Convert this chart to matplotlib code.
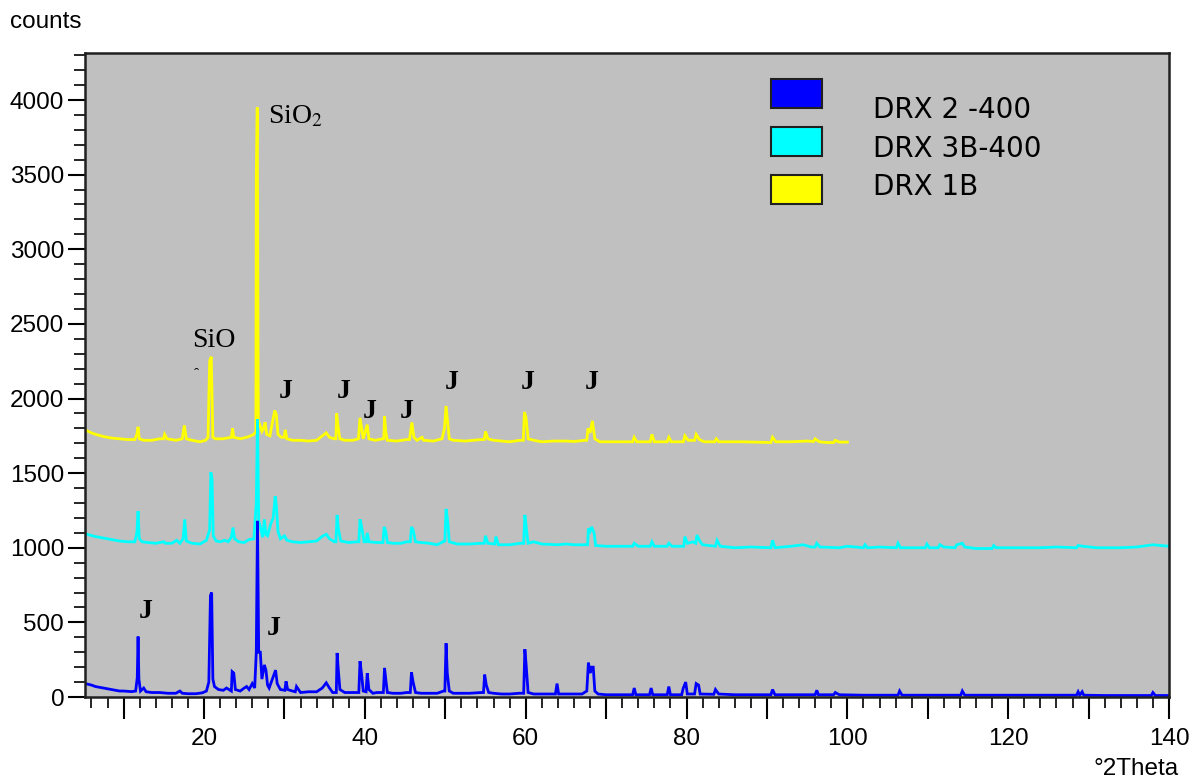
import matplotlib
matplotlib.use("Agg")
import matplotlib.pyplot as plt
import matplotlib.patches as patches
from matplotlib.ticker import MultipleLocator, FuncFormatter
import numpy as np

plt.rcParams['mathtext.fontset'] = 'stix'

# (2theta, counts) pairs for each diffractogram
drx2_400 = [
    (5.2, 90), (5.6, 85), (6.0, 80), (6.5, 70), (7.0, 65), (7.5, 60), (8.0, 55),
    (8.5, 50), (9.0, 45), (9.5, 40), (10.0, 40), (10.5, 38), (11.0, 36), (11.5, 40),
    (11.7, 130), (11.8, 405), (11.9, 120), (12.1, 40), (12.5, 60), (12.8, 35),
    (13.5, 30), (14.5, 30), (15.5, 25), (16.5, 25), (17.0, 40), (17.3, 25), (18.0, 22),
    (19.0, 22), (19.8, 28), (20.3, 40), (20.6, 100), (20.8, 680), (20.95, 700),
    (21.1, 120), (21.3, 70), (21.8, 50), (22.4, 45), (22.8, 60), (23.4, 40),
    (23.5, 170), (23.7, 160), (23.9, 50), (24.5, 40), (25.0, 60), (25.3, 70),
    (25.6, 50), (26.0, 90), (26.3, 60), (26.5, 300), (26.65, 1180), (26.8, 300),
    (27.0, 300), (27.2, 120), (27.5, 215), (27.7, 180), (27.9, 80), (28.1, 60),
    (28.5, 120), (28.9, 180), (29.1, 90), (29.5, 50), (30.05, 45), (30.2, 105),
    (30.4, 50), (31.0, 40), (31.35, 35), (31.5, 70), (32.0, 30), (33.0, 35),
    (34.0, 35), (34.7, 60), (35.2, 95), (35.6, 60), (36.0, 30), (36.45, 30),
    (36.55, 295), (36.7, 180), (36.9, 50), (37.5, 30), (38.5, 30), (39.25, 30),
    (39.4, 240), (39.6, 150), (39.8, 40), (40.15, 35), (40.3, 160), (40.5, 50),
    (41.0, 25), (41.5, 30), (42.0, 30), (42.3, 30), (42.45, 195), (42.6, 120),
    (42.8, 30), (43.5, 25), (44.5, 25), (45.2, 30), (45.65, 30), (45.8, 165),
    (46.0, 100), (46.3, 30), (47.0, 25), (48.0, 25), (49.0, 25), (49.8, 40),
    (49.95, 40), (50.1, 360), (50.25, 160), (50.5, 40), (51.0, 25), (52.0, 25),
    (53.0, 25), (54.5, 30), (54.75, 30), (54.9, 150), (55.1, 80), (55.4, 30),
    (56.0, 25), (57.0, 20), (58.0, 20), (59.2, 25), (59.75, 25), (59.9, 320),
    (60.05, 220), (60.3, 30), (61.0, 20), (62.0, 20), (63.7, 20), (63.9, 90),
    (64.1, 20), (65.0, 20), (66.0, 20), (67.0, 20), (67.6, 40), (67.8, 230),
    (68.0, 160), (68.2, 200), (68.4, 200), (68.6, 40), (69.0, 20), (70.0, 15),
    (72.0, 15), (73.3, 15), (73.5, 60), (73.7, 15), (75.4, 15), (75.6, 60),
    (75.8, 15), (77.6, 15), (77.8, 70), (78.0, 15), (79.4, 15), (79.6, 60),
    (79.9, 100), (80.1, 20), (81.0, 20), (81.2, 90), (81.5, 80), (81.7, 20),
    (83.4, 18), (83.6, 50), (84.0, 20), (86.0, 15), (88.0, 15), (90.5, 15),
    (90.7, 50), (91.0, 15), (94.0, 15), (96.0, 15), (96.2, 45), (96.4, 15),
    (98.3, 15), (98.5, 30), (99.0, 15), (102.0, 12), (104.0, 12), (106.3, 12),
    (106.5, 40), (106.8, 12), (110.0, 12), (112.0, 12), (114.1, 12), (114.3, 40),
    (114.6, 12), (118.0, 12), (122.0, 12), (126.0, 12), (128.5, 12), (128.7, 35),
    (128.9, 12), (129.2, 35), (129.4, 12), (132.0, 10), (136.0, 10), (137.8, 10),
    (138.0, 30), (138.3, 10), (140.0, 10),
]

drx3b_400 = [
    (5.2, 1095), (5.8, 1085), (6.5, 1075), (7.5, 1065), (8.5, 1055), (9.5, 1045),
    (10.5, 1040), (11.4, 1040), (11.65, 1100), (11.8, 1245), (11.95, 1060),
    (12.3, 1040), (13.0, 1035), (14.0, 1030), (15.0, 1040), (15.2, 1030),
    (16.0, 1030), (16.6, 1050), (17.0, 1030), (17.4, 1060), (17.6, 1190),
    (17.8, 1045), (18.5, 1030), (19.5, 1025), (20.3, 1050), (20.7, 1120),
    (20.85, 1505), (21.0, 1460), (21.15, 1080), (21.5, 1045), (22.0, 1040),
    (22.6, 1050), (23.0, 1040), (23.4, 1070), (23.6, 1135), (23.8, 1060),
    (24.3, 1040), (25.0, 1035), (25.6, 1055), (26.2, 1060), (26.5, 1300),
    (26.65, 1860), (26.8, 1180), (27.0, 1140), (27.3, 1070), (27.5, 1190),
    (27.7, 1090), (27.9, 1080), (28.3, 1160), (28.6, 1200), (28.85, 1345),
    (29.0, 1280), (29.2, 1110), (29.5, 1060), (30.0, 1080), (30.3, 1050),
    (31.0, 1040), (32.0, 1035), (33.0, 1040), (34.0, 1045), (34.8, 1080),
    (35.2, 1090), (35.6, 1060), (36.2, 1040), (36.4, 1040), (36.55, 1220),
    (36.7, 1130), (37.0, 1045), (38.0, 1035), (39.0, 1040), (39.25, 1040),
    (39.4, 1190), (39.6, 1140), (39.9, 1040), (40.15, 1040), (40.3, 1100),
    (40.5, 1040), (41.5, 1035), (42.25, 1035), (42.4, 1140), (42.6, 1110),
    (42.8, 1035), (43.5, 1030), (44.5, 1030), (45.2, 1040), (45.65, 1040),
    (45.8, 1140), (46.0, 1120), (46.3, 1040), (47.0, 1035), (48.0, 1030),
    (49.0, 1020), (49.7, 1040), (49.95, 1045), (50.1, 1260), (50.3, 1180),
    (50.5, 1040), (51.5, 1025), (53.0, 1025), (54.5, 1030), (54.85, 1030),
    (55.0, 1080), (55.3, 1030), (56.15, 1025), (56.3, 1075), (56.6, 1020),
    (58.0, 1020), (59.3, 1030), (59.75, 1030), (59.9, 1220), (60.1, 1120),
    (60.3, 1030), (61.0, 1040), (62.0, 1025), (64.0, 1020), (65.0, 1025),
    (66.0, 1020), (67.7, 1020), (67.8, 1130), (68.0, 1110), (68.2, 1140),
    (68.5, 1100), (68.7, 1015), (70.0, 1010), (72.0, 1010), (73.3, 1010),
    (73.5, 1030), (74.0, 1010), (75.5, 1010), (75.7, 1040), (76.0, 1010),
    (77.6, 1010), (77.8, 1030), (78.2, 1010), (79.2, 1010), (79.65, 1010),
    (79.8, 1075), (80.1, 1030), (80.8, 1040), (81.15, 1030), (81.3, 1085),
    (81.7, 1040), (82.0, 1020), (83.6, 1010), (83.8, 1050), (84.2, 1010),
    (86.0, 1000), (88.0, 1005), (90.5, 1000), (90.7, 1050), (91.0, 1000),
    (93.0, 1010), (94.5, 1020), (95.5, 1005), (96.0, 1005), (96.2, 1030),
    (96.6, 1005), (99.0, 1000), (100.0, 1010), (102.0, 1000), (102.2, 1020),
    (102.5, 1000), (104.0, 1005), (106.1, 1000), (106.3, 1030), (106.6, 1000),
    (108.0, 1000), (109.7, 1000), (109.9, 1025), (110.2, 1000), (111.3, 1000),
    (111.5, 1020), (112.0, 1005), (113.4, 1000), (113.6, 1020), (114.3, 1030),
    (114.6, 1005), (116.0, 995), (118.0, 995), (118.2, 1015), (118.5, 1000),
    (121.0, 1000), (124.0, 1000), (126.0, 1005), (128.5, 1000), (128.7, 1015),
    (129.3, 1010), (131.0, 1000), (134.0, 1000), (136.0, 1005), (138.0, 1020),
    (139.0, 1015), (140.0, 1010),
]

drx1b = [
    (5.2, 1790), (5.6, 1780), (6.0, 1770), (6.5, 1760), (7.5, 1745), (8.5, 1735),
    (9.5, 1730), (10.5, 1725), (11.4, 1725), (11.65, 1760), (11.8, 1810),
    (11.95, 1730), (12.5, 1720), (13.5, 1720), (14.5, 1730), (14.95, 1730),
    (15.1, 1760), (15.4, 1730), (16.5, 1720), (17.3, 1730), (17.55, 1820),
    (17.8, 1730), (18.5, 1720), (19.5, 1710), (20.2, 1720), (20.5, 1740),
    (20.7, 2250), (20.9, 2280), (21.1, 1740), (21.4, 1730), (22.3, 1730),
    (23.4, 1740), (23.55, 1800), (23.7, 1740), (24.5, 1730), (25.3, 1740),
    (25.8, 1750), (26.2, 1760), (26.45, 1780), (26.5, 3500), (26.62, 3950),
    (26.75, 1850), (26.9, 1830), (27.2, 1780), (27.4, 1800), (27.6, 1840),
    (27.8, 1760), (28.2, 1750), (28.5, 1840), (28.8, 1920), (29.0, 1890),
    (29.2, 1760), (29.6, 1740), (29.95, 1740), (30.1, 1790), (30.3, 1730),
    (31.0, 1720), (32.0, 1720), (33.0, 1715), (34.0, 1720), (34.6, 1745),
    (35.2, 1770), (35.6, 1740), (36.2, 1730), (36.4, 1730), (36.5, 1900),
    (36.7, 1800), (36.9, 1730), (37.5, 1720), (38.5, 1720), (39.2, 1730),
    (39.4, 1870), (39.6, 1800), (39.8, 1730), (40.3, 1825), (40.5, 1730),
    (41.3, 1720), (42.2, 1730), (42.35, 1730), (42.45, 1880), (42.6, 1780),
    (42.8, 1720), (44.0, 1715), (45.2, 1725), (45.55, 1725), (45.7, 1780),
    (45.85, 1840), (46.1, 1740), (46.5, 1720), (47.1, 1740), (47.3, 1720),
    (48.5, 1715), (49.6, 1730), (49.9, 1800), (50.1, 1950), (50.3, 1840),
    (50.5, 1730), (51.0, 1720), (52.5, 1715), (54.5, 1725), (54.85, 1725),
    (55.0, 1780), (55.3, 1730), (56.0, 1720), (57.0, 1715), (58.0, 1710),
    (59.3, 1720), (59.7, 1720), (59.85, 1910), (60.05, 1870), (60.3, 1730),
    (61.0, 1720), (62.0, 1710), (63.5, 1715), (65.0, 1715), (66.0, 1712),
    (67.4, 1720), (67.6, 1720), (67.75, 1800), (68.0, 1770), (68.3, 1850),
    (68.6, 1730), (69.2, 1710), (71.0, 1710), (73.3, 1710), (73.5, 1740),
    (73.8, 1710), (75.5, 1710), (75.7, 1760), (76.0, 1710), (77.6, 1710),
    (77.8, 1740), (78.1, 1710), (79.6, 1710), (79.8, 1750), (80.2, 1720),
    (81.0, 1720), (81.2, 1760), (81.6, 1725), (82.2, 1710), (83.5, 1710),
    (83.7, 1730), (84.0, 1710), (87.0, 1710), (90.2, 1705), (90.5, 1705),
    (90.7, 1740), (91.1, 1710), (93.0, 1710), (95.0, 1715), (95.8, 1712),
    (96.0, 1730), (96.5, 1710), (97.5, 1705), (98.3, 1705), (98.5, 1720),
    (99.0, 1708), (100.0, 1708),
]

series_names = ['DRX 2 -400', 'DRX 3B-400', 'DRX 1B']
series_data = [drx2_400, drx3b_400, drx1b]
series_colors = ['#0000ff', '#00ffff', '#ffff00']

fig = plt.figure(figsize=(11.97, 7.79), dpi=100)
ax = fig.add_axes([85 / 1197, 82 / 779, 1084 / 1197, 644 / 779])
ax.set_facecolor('#c0c0c0')

# yellow underneath, blue on top
for data, color in reversed(list(zip(series_data, series_colors))):
    arr = np.array(data)
    ax.plot(arr[:, 0], arr[:, 1], color=color, lw=2.0, solid_joinstyle='miter')

ax.set_xlim(5.2, 140)
ax.set_ylim(0, 4315)

ax.xaxis.set_major_locator(MultipleLocator(10))
ax.xaxis.set_minor_locator(MultipleLocator(2))
ax.xaxis.set_major_formatter(FuncFormatter(
    lambda v, p: f'{v:.0f}' if round(v) % 20 == 0 else ''))
ax.yaxis.set_major_locator(MultipleLocator(500))
ax.yaxis.set_minor_locator(MultipleLocator(100))
ax.tick_params(axis='x', which='major', length=16, width=1.5, pad=6, direction='out')
ax.tick_params(axis='x', which='minor', length=8, width=1.2, direction='out')
ax.tick_params(axis='y', which='major', length=12, width=1.5, pad=3, direction='out')
ax.tick_params(axis='y', which='minor', length=8, width=1.2, direction='out')
for lbl in ax.get_xticklabels() + ax.get_yticklabels():
    lbl.set_fontfamily('Liberation Sans')
    lbl.set_fontsize(17.5)
for sp in ax.spines.values():
    sp.set_linewidth(1.8)
    sp.set_color('#202020')

# legend boxes drawn by hand
rect_x, rect_w, rect_h = 0.6328, 0.047, 0.045
rect_ys = [0.9146, 0.8401, 0.7655]
text_ys = [0.8991, 0.8385, 0.7795]
for name, color, ry, ty in zip(series_names, series_colors, rect_ys, text_ys):
    ax.add_patch(patches.Rectangle((rect_x, ry), rect_w, rect_h, transform=ax.transAxes,
                                   facecolor=color, edgecolor='#202020', lw=1.5))
    ax.text(0.7269, ty, name, transform=ax.transAxes, fontsize=20,
            family='DejaVu Sans', va='baseline', ha='left')

# phase labels
serif = dict(family='Liberation Serif', fontsize=20)
ax.text(27.95, 3886, r'SiO$_{\mathrm{2}}$', va='center', ha='left', **serif)
ax.text(18.5, 2392, 'SiO', va='center', ha='left', **serif)
ax.text(18.8, 2164, 'ˆ', va='center', ha='left', family='Liberation Serif', fontsize=11)
j_spots = [(30.2, 2050), (37.4, 2044), (40.6, 1916), (45.2, 1916), (50.8, 2110),
           (60.3, 2110), (68.2, 2110), (12.8, 570), (28.7, 462)]
for jx, jy in j_spots:
    ax.text(jx, jy, 'J', va='center', ha='center', fontweight='bold', **serif)

fig.text(10 / 1197, 1 - 28 / 779, 'counts', fontsize=17.5, family='Liberation Sans',
         va='baseline', ha='left')
fig.text(1179 / 1197, 1 - 775 / 779, '°2Theta', fontsize=17.5, family='Liberation Sans',
         va='baseline', ha='right')

fig.savefig('out.png', dpi=100, facecolor='white')
